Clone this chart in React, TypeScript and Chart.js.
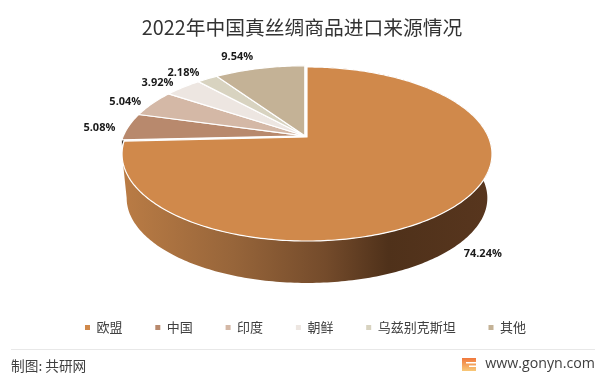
import React, { useEffect, useRef } from "react";
import { Chart, registerables } from "chart.js";

Chart.register(...registerables);

const categories = ["欧盟", "中国", "印度", "朝鲜", "乌兹别克斯坦", "其他"];
const shares = [74.24, 5.08, 5.04, 3.92, 2.18, 9.54];
const colors = ["#D0894B", "#B8896D", "#D4B8A6", "#EDE6E1", "#D8D3C0", "#C4B296"];
const titleText = "2022年中国真丝绸商品进口来源情况";
const sourceText = "制图: 共研网";
const siteText = "www.gonyn.com";

const CJK = '"Noto Sans CJK SC", "Noto Sans", sans-serif';
const K = 0.1954, A = 181.4, B = 83.7;
const labelNudge = [[24, 50], [-29, 1], [-27, -2], [-25.5, -4.5], [-24, -6], [-22.5, -11.7]];

function project(angle: number, cx: number, cy: number, s = 1): [number, number] {
  const u = Math.cos(angle), v = -Math.sin(angle), w = 1 + K * v;
  return [cx + (A * s * u) / w, cy - (B * s * v) / w];
}
function rimPoints(a0: number, a1: number, cx: number, cy: number, s = 1) {
  const n = Math.max(4, Math.ceil(Math.abs(a1 - a0) * 60));
  const pts: [number, number][] = [];
  for (let i = 0; i <= n; i++) pts.push(project(a0 + ((a1 - a0) * i) / n, cx, cy, s));
  return pts;
}
function trace(ctx: CanvasRenderingContext2D, pts: [number, number][]) {
  pts.forEach((p, i) => (i ? ctx.lineTo(p[0], p[1]) : ctx.moveTo(p[0], p[1])));
}

const pie3d = {
  id: "pie3d",
  afterLayout(chart: any) {
    chart.titleBlock.left = 4;
    chart.titleBlock.right = 600;
  },
  beforeDatasetsDraw(chart: any) {
    const ctx: CanvasRenderingContext2D = chart.ctx;
    const arcs = chart.getDatasetMeta(0).data;
    const centers = arcs.map((_: any, i: number) => (i === 0 ? [307, 137] : [304.8, 135.8]));
    ctx.save();
    // side wall: the big slice's wall stops at the left silhouette of the disc
    const wallScale = 0.975, depth = 44.5;
    const silhouette = Math.PI - Math.asin(K);
    const grad = ctx.createLinearGradient(122, 0, 492, 0);
    grad.addColorStop(0, "#BA7C45");
    grad.addColorStop(0.3, "#97653A");
    grad.addColorStop(0.55, "#744B2B");
    grad.addColorStop(0.72, "#4F311A");
    grad.addColorStop(1, "#58361E");
    {
      const a = arcs[1], [cx, cy] = centers[1];
      const top = rimPoints(a.startAngle, a.startAngle + 0.06, cx, cy);
      const bot = rimPoints(a.startAngle + 0.06, a.startAngle, cx, cy + 6);
      ctx.beginPath();
      trace(ctx, top);
      bot.forEach((p) => ctx.lineTo(p[0], p[1]));
      ctx.closePath();
      ctx.fillStyle = "#4a4038";
      ctx.fill();
    }
    {
      const a = arcs[0], [cx, cy] = centers[0];
      const end = Math.min(a.endAngle, silhouette);
      const top = rimPoints(a.startAngle, end, cx, cy);
      const bot = rimPoints(end, a.startAngle, cx, cy + depth, wallScale);
      ctx.beginPath();
      trace(ctx, top);
      bot.forEach((p) => ctx.lineTo(p[0], p[1]));
      ctx.closePath();
      ctx.fillStyle = grad;
      ctx.fill();
    }
    // top faces
    arcs.forEach((a: any, i: number) => {
      const [cx, cy] = centers[i];
      const rim = rimPoints(a.startAngle, a.endAngle, cx, cy);
      ctx.beginPath();
      ctx.moveTo(cx, cy);
      rim.forEach((p) => ctx.lineTo(p[0], p[1]));
      ctx.closePath();
      ctx.fillStyle = a.options.backgroundColor;
      ctx.fill();
      ctx.strokeStyle = "#FFFFFF";
      ctx.lineWidth = 1.2;
      ctx.lineJoin = "round";
      ctx.stroke();
    });
    // labels
    ctx.font = 'bold 11px "Open Sans", sans-serif';
    ctx.fillStyle = "#1a1a1a";
    ctx.textAlign = "center";
    ctx.textBaseline = "middle";
    arcs.forEach((a: any, i: number) => {
      const [cx, cy] = centers[i];
      const [x, y] = project((a.startAngle + a.endAngle) / 2, cx, cy);
      ctx.fillText(shares[i].toFixed(2) + "%", x + labelNudge[i][0], y + labelNudge[i][1]);
    });
    ctx.restore();
    return false;
  },
  afterDraw(chart: any) {
    const ctx: CanvasRenderingContext2D = chart.ctx;
    ctx.save();
    ctx.strokeStyle = "#E8E8E8";
    ctx.lineWidth = 1;
    ctx.beginPath();
    ctx.moveTo(11, 349.5);
    ctx.lineTo(595, 349.5);
    ctx.stroke();
    ctx.fillStyle = "#404040";
    ctx.textBaseline = "middle";
    ctx.textAlign = "left";
    ctx.font = `13.7px ${CJK}`;
    ctx.fillText(sourceText, 11, 366);
    ctx.font = '14.2px "Open Sans", sans-serif';
    ctx.textAlign = "right";
    ctx.fillText(siteText, 595, 364);
    const g = ctx.createLinearGradient(0, 358, 0, 371);
    g.addColorStop(0, "#F0783C");
    g.addColorStop(1, "#F8C878");
    ctx.fillStyle = g;
    ctx.fillRect(462, 358, 14, 13);
    ctx.fillStyle = "#FFFFFF";
    ctx.fillRect(466, 362, 10, 1.5);
    ctx.fillRect(469, 365.5, 7, 1.5);
    ctx.restore();
  },
};

export default function App() {
  const ref = useRef<HTMLCanvasElement>(null);
  useEffect(() => {
    const chart = new Chart(ref.current!, {
      type: "pie",
      data: {
        labels: categories,
        datasets: [{ data: shares, backgroundColor: colors, borderWidth: 0 }],
      },
      options: {
        animation: false,
        responsive: false,
        layout: { padding: { bottom: 32, left: 11 } },
        plugins: {
          title: {
            display: true,
            text: titleText,
            color: "#333333",
            font: { family: CJK, size: 19.75, weight: "normal" },
            padding: { top: 16, bottom: 8 },
          },
          legend: {
            position: "bottom",
            labels: {
              boxWidth: 5,
              boxHeight: 5,
              padding: 32.8,
              color: "#404040",
              font: { family: CJK, size: 13 },
            },
          },
          tooltip: { enabled: false },
        },
      },
      plugins: [pie3d],
    } as any);
    return () => chart.destroy();
  }, []);
  return (
    <div style={{ position: "absolute", left: 0, top: 0, width: 600, height: 376, background: "#fff" }}>
      <canvas ref={ref} width={600} height={376} style={{ display: "block" }} />
    </div>
  );
}
